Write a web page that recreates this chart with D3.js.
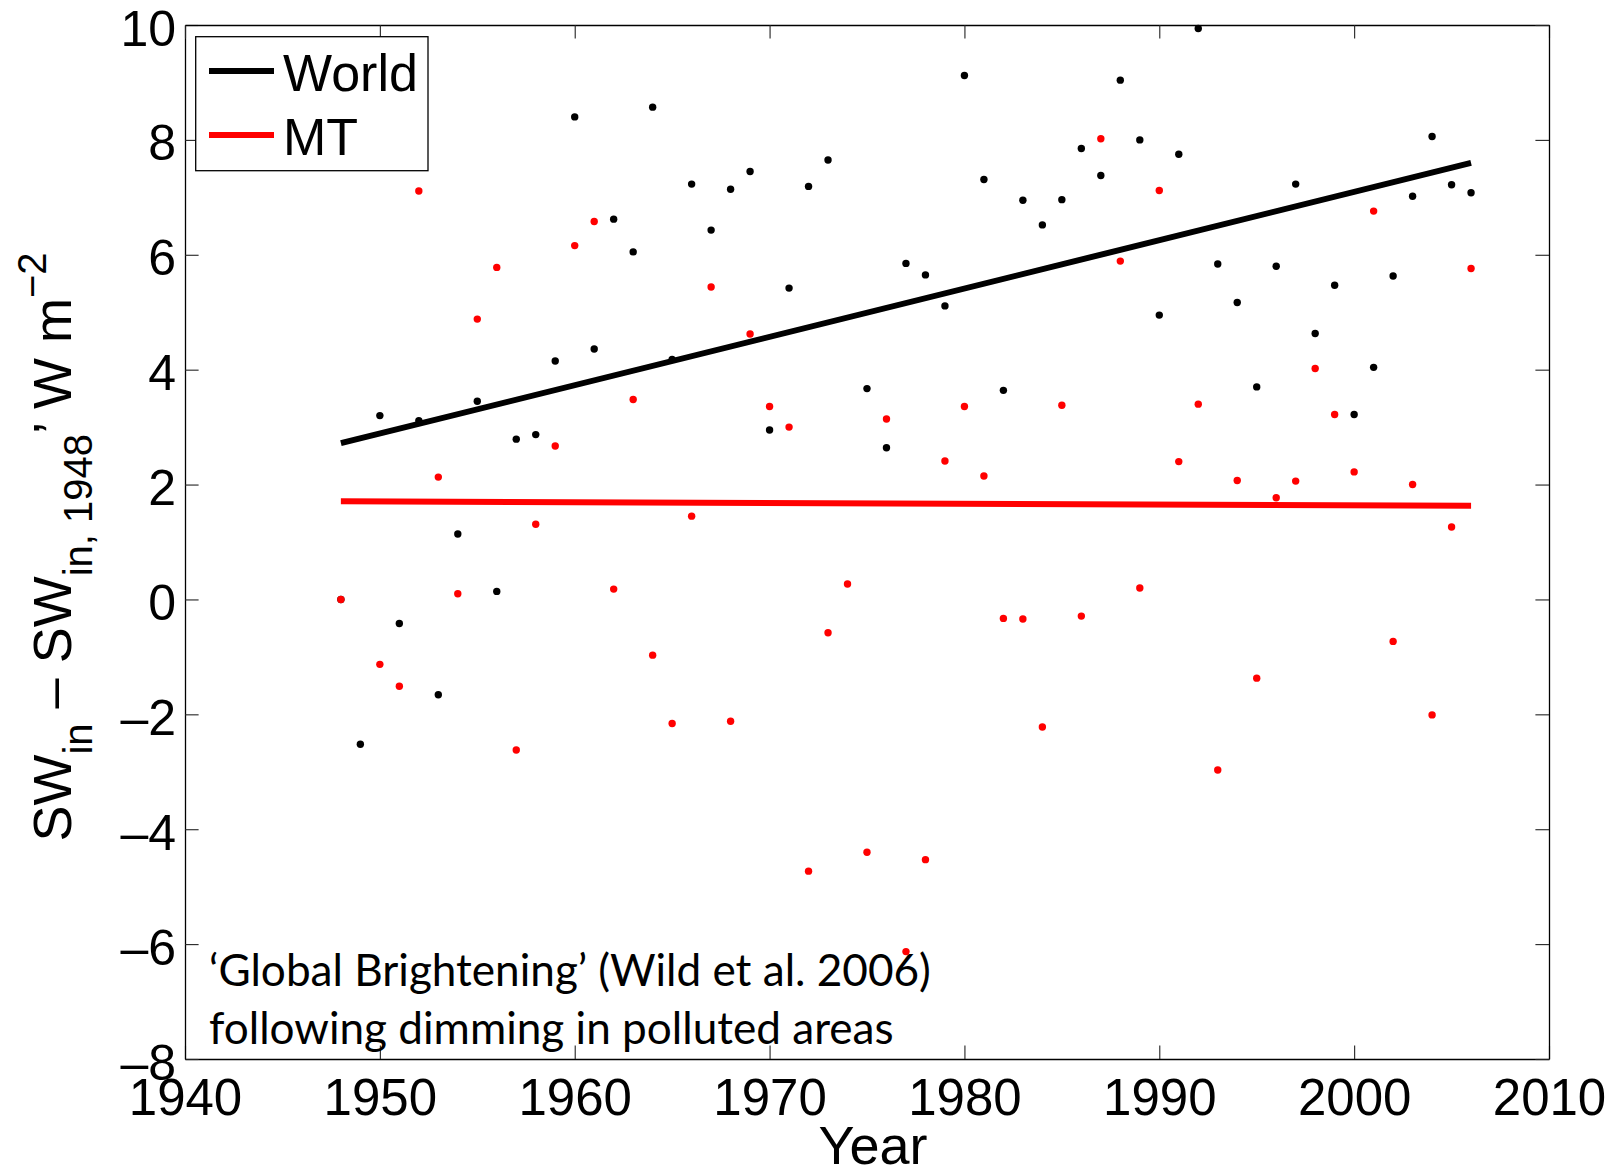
<!DOCTYPE html>
<html>
<head>
<meta charset="utf-8">
<script src="https://cdn.jsdelivr.net/npm/d3@7"></script>
<style>
  html, body { margin: 0; padding: 0; background: #fff; }
  svg { display: block; }
</style>
</head>
<body>
<svg id="chart" width="1616" height="1170"></svg>
<script>
// Annual shortwave anomaly relative to 1948 (W m^-2)
const years = [1948, 1949, 1950, 1951, 1952, 1953, 1954, 1955, 1956, 1957,
               1958, 1959, 1960, 1961, 1962, 1963, 1964, 1965, 1966, 1967,
               1968, 1969, 1970, 1971, 1972, 1973, 1974, 1975, 1976, 1977,
               1978, 1979, 1980, 1981, 1982, 1983, 1984, 1985, 1986, 1987,
               1988, 1989, 1990, 1991, 1992, 1993, 1994, 1995, 1996, 1997,
               1998, 1999, 2000, 2001, 2002, 2003, 2004, 2005, 2006];

const worldValues = [0.00, -2.52, 3.20, -0.42, 3.11, -1.66, 1.14, 3.45, 0.14, 2.79,
                     2.87, 4.15, 8.40, 4.36, 6.62, 6.05, 8.57, 4.18, 7.23, 6.43,
                     7.14, 7.45, 2.95, 5.42, 7.19, 7.65, null, 3.67, 2.64, 5.85,
                     5.65, 5.11, 9.12, 7.31, 3.64, 6.95, 6.52, 6.96, 7.85, 7.38,
                     9.04, 8.00, 4.95, 7.75, 9.94, 5.84, 5.17, 3.70, 5.80, 7.23,
                     4.63, 5.47, 3.22, 4.04, 5.63, 7.02, 8.06, 7.22, 7.08];

const mtValues = [0.00, null, -1.13, -1.51, 7.11, 2.13, 0.10, 4.88, 5.78, -2.62,
                  1.31, 2.67, 6.16, 6.58, 0.18, 3.48, -0.97, -2.16, 1.45, 5.44,
                  -2.12, 4.62, 3.36, 3.00, -4.73, -0.58, 0.27, -4.40, 3.14, -6.13,
                  -4.53, 2.41, 3.36, 2.15, -0.33, -0.34, -2.22, 3.38, -0.29, 8.02,
                  5.89, 0.20, 7.12, 2.40, 3.40, -2.97, 2.07, -1.37, 1.77, 2.06,
                  4.02, 3.22, 2.22, 6.76, -0.73, 2.00, -2.01, 1.26, 5.76];

// Linear trend endpoints
const trendYears = [1948, 2006];
const worldTrend = [2.72, 7.60];
const mtTrend = [1.71, 1.63];

const xTicks = [1940, 1950, 1960, 1970, 1980, 1990, 2000, 2010];
const yTicks = [-8, -6, -4, -2, 0, 2, 4, 6, 8, 10];

const seriesNames = ["World", "MT"];
const seriesColors = ["#000000", "#ff0000"];

const noteLines = ["\u2018Global Brightening\u2019 (Wild et al. 2006)",
                   "following dimming in polluted areas"];

// ---- layout ----
const svg = d3.select("#chart");
const plot = { left: 185, right: 1549, top: 25, bottom: 1059 };
const axisFont = "'Liberation Sans', Arial, Helvetica, sans-serif";
const tickLen = 13.6;

const x = d3.scaleLinear().domain([1940, 2010]).range([plot.left, plot.right]);
const y = d3.scaleLinear().domain([-8, 10]).range([plot.bottom, plot.top]);

const fmt = d => d < 0 ? "\u2013" + Math.abs(d) : String(d);

function styleAxis(g, size) {
  g.selectAll("path.domain").attr("stroke", "#000").attr("stroke-width", 1.3);
  g.selectAll(".tick line").attr("stroke", "#222").attr("stroke-width", 1.1);
  g.selectAll(".tick text")
    .attr("fill", "#000")
    .style("font-family", axisFont)
    .style("font-size", size + "px");
}

// bottom axis with labels
const gx = svg.append("g")
  .attr("transform", `translate(0,${plot.bottom})`)
  .call(d3.axisBottom(x).tickValues(xTicks).tickSizeInner(-tickLen)
        .tickSizeOuter(0).tickPadding(20).tickFormat(d3.format("d")));
styleAxis(gx, 51);

// left axis with labels
const gy = svg.append("g")
  .attr("transform", `translate(${plot.left},0)`)
  .call(d3.axisLeft(y).tickValues(yTicks).tickSizeInner(-tickLen)
        .tickSizeOuter(0).tickPadding(9).tickFormat(fmt));
styleAxis(gy, 50);
gy.selectAll(".tick text").attr("dy", "0.40em");

// top and right axes: ticks only
const gxt = svg.append("g")
  .attr("transform", `translate(0,${plot.top})`)
  .call(d3.axisTop(x).tickValues(xTicks).tickSizeInner(-tickLen)
        .tickSizeOuter(0).tickFormat(""));
styleAxis(gxt, 50);
const gyr = svg.append("g")
  .attr("transform", `translate(${plot.right},0)`)
  .call(d3.axisRight(y).tickValues(yTicks).tickSizeInner(-tickLen)
        .tickSizeOuter(0).tickFormat(""));
styleAxis(gyr, 50);

// annotation inside the plot, lower left
const note = svg.append("g").attr("class", "note");
const noteText = noteLines.map((t, i) => note.append("text")
  .attr("x", 209)
  .attr("y", 986 + i * 58)
  .attr("fill", "#000")
  .style("font-family", "Lato, 'Open Sans', sans-serif")
  .style("font-size", "48px")
  .text(t));
// size the note so its first line spans the intended width
const w0 = noteText[0].node().getComputedTextLength();
const noteSize = 48 * 722 / w0;
noteText.forEach(t => t.style("font-size", noteSize + "px"));

// trend lines
const trendLine = d3.line().x(d => x(d[0])).y(d => y(d[1]));
[worldTrend, mtTrend].forEach((vals, i) => {
  svg.append("path")
    .datum(trendYears.map((yr, j) => [yr, vals[j]]))
    .attr("d", trendLine)
    .attr("fill", "none")
    .attr("stroke", seriesColors[i])
    .attr("stroke-width", 6);
});

// annual points
[worldValues, mtValues].forEach((vals, i) => {
  svg.append("g")
    .selectAll("circle")
    .data(years.map((yr, j) => ({ yr, v: vals[j] })).filter(d => d.v !== null))
    .join("circle")
    .attr("cx", d => x(d.yr))
    .attr("cy", d => y(d.v))
    .attr("r", 3.7)
    .attr("fill", seriesColors[i]);
});

// legend
const lg = svg.append("g").attr("class", "legend");
lg.append("rect")
  .attr("x", 195.7).attr("y", 36.7)
  .attr("width", 232.3).attr("height", 134)
  .attr("fill", "#fff").attr("stroke", "#000").attr("stroke-width", 1.3);
seriesNames.forEach((name, i) => {
  const cy = 71 + i * 64;
  lg.append("line")
    .attr("x1", 209).attr("x2", 274)
    .attr("y1", cy).attr("y2", cy)
    .attr("stroke", seriesColors[i]).attr("stroke-width", 6);
  lg.append("text")
    .attr("x", 283).attr("y", cy + 19.5)
    .attr("fill", "#000")
    .style("font-family", axisFont)
    .style("font-size", "52px")
    .text(name);
});

// axis titles
svg.append("text")
  .attr("x", 873).attr("y", 1164)
  .attr("text-anchor", "middle")
  .attr("fill", "#000")
  .style("font-family", axisFont)
  .style("font-size", "54px")
  .text("Year");

const yl = svg.append("text")
  .attr("transform", "translate(71,547) rotate(-90)")
  .attr("text-anchor", "middle")
  .attr("fill", "#000")
  .style("font-family", axisFont)
  .style("font-size", "54px");
yl.append("tspan").text("SW");
yl.append("tspan").attr("dy", 21).style("font-size", "40px").text("in");
yl.append("tspan").attr("dy", -21).text(" \u2013 SW");
yl.append("tspan").attr("dy", 21).style("font-size", "40px").text("in, 1948");
yl.append("tspan").attr("dy", -21).text("\u2019 W m");
yl.append("tspan").attr("dy", -25).style("font-size", "40px").text("\u22122");
</script>
</body>
</html>
